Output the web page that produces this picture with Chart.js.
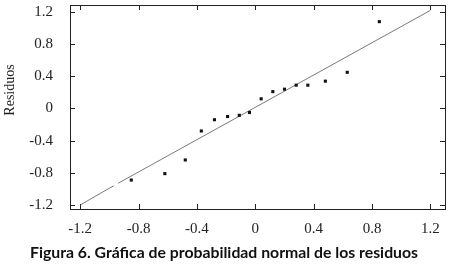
<!DOCTYPE html>
<html>
<head>
<meta charset="utf-8">
<script src="https://cdn.jsdelivr.net/npm/chart.js@4/dist/chart.umd.min.js"></script>
<style>
  html, body { margin: 0; padding: 0; background: #fff; }
  #wrap { width: 449px; height: 273px; position: relative; }
</style>
</head>
<body>
<div id="wrap"><canvas id="chart"></canvas></div>
<script>
// residuals vs normal scores
const normalScores = [-0.85, -0.62, -0.48, -0.37, -0.28, -0.19, -0.11, -0.04, 0.04, 0.12, 0.20, 0.28, 0.36, 0.48, 0.63, 0.85];
const residuals = [-0.89, -0.81, -0.64, -0.28, -0.14, -0.10, -0.085, -0.05, 0.12, 0.21, 0.24, 0.29, 0.29, 0.34, 0.45, 1.08];

// reference line (with the small break seen near -0.95)
const lineX = [-1.2, -0.97, -0.955, -0.94, 1.2];
const lineY = [-1.2, -0.96, null, -0.93, 1.22];

const xTickValues = [-1.2, -0.8, -0.4, 0, 0.4, 0.8, 1.2];
const yTickValues = [-1.2, -0.8, -0.4, 0, 0.4, 0.8, 1.2];

const yTitle = "Residuos";
const caption = "Figura 6. Gráfica de probabilidad normal de los residuos";

const serif = "'Liberation Serif', 'DejaVu Serif', serif";

// box + inward tick marks on all four sides, plus y title and caption
const framePlugin = {
  id: "frame",
  afterDraw(chart) {
    const { ctx, chartArea: a, scales } = chart;
    const len = 5;
    ctx.save();
    ctx.strokeStyle = "#222";
    ctx.lineWidth = 1;
    ctx.strokeRect(Math.round(a.left) + 0.5, Math.round(a.top) + 0.5,
      Math.round(a.right - a.left), Math.round(a.bottom - a.top));
    ctx.beginPath();
    for (const v of xTickValues) {
      const px = Math.round(scales.x.getPixelForValue(v)) + 0.5;
      ctx.moveTo(px, a.bottom); ctx.lineTo(px, a.bottom - len);
      ctx.moveTo(px, a.top); ctx.lineTo(px, a.top + len);
    }
    for (const v of yTickValues) {
      const py = Math.round(scales.y.getPixelForValue(v)) + 0.5;
      ctx.moveTo(a.left, py); ctx.lineTo(a.left + len, py);
      ctx.moveTo(a.right, py); ctx.lineTo(a.right - len, py);
    }
    ctx.stroke();

    // y axis title
    ctx.fillStyle = "#222";
    ctx.font = "14px " + serif;
    ctx.textAlign = "center";
    ctx.textBaseline = "middle";
    ctx.translate(10, 90);
    ctx.rotate(-Math.PI / 2);
    ctx.fillText(yTitle, 0, 0);
    ctx.restore();

    // caption
    ctx.save();
    ctx.fillStyle = "#111";
    ctx.font = "bold 15.8px Lato, 'Open Sans', sans-serif";
    ctx.textAlign = "center";
    ctx.textBaseline = "middle";
    ctx.fillText(caption, 224, 253);
    ctx.restore();
  }
};

new Chart(document.getElementById("chart"), {
  type: "scatter",
  data: {
    datasets: [
      {
        data: lineX.map((x, i) => ({ x: x, y: lineY[i] })),
        showLine: true,
        spanGaps: false,
        borderColor: "#7a7a7a",
        borderWidth: 1,
        pointRadius: 0,
        order: 2
      },
      {
        data: normalScores.map((x, i) => ({ x: x, y: residuals[i] })),
        pointStyle: "rect",
        pointRadius: 2.2,
        backgroundColor: "#111",
        borderColor: "#111",
        borderWidth: 0,
        order: 1
      }
    ]
  },
  options: {
    responsive: true,
    maintainAspectRatio: false,
    animation: false,
    events: [],
    layout: { padding: { top: 5, right: 3, left: 0, bottom: 0 } },
    plugins: {
      legend: { display: false },
      title: { display: false },
      tooltip: { enabled: false }
    },
    scales: {
      x: {
        type: "linear",
        min: -1.27,
        max: 1.3,
        grid: { display: false, drawTicks: false },
        border: { display: false },
        afterBuildTicks: (scale) => { scale.ticks = xTickValues.map(v => ({ value: v })); },
        afterFit: (scale) => {
          scale.height = 64;
          scale.paddingLeft = 0; scale.paddingRight = 0;
        },
        ticks: {
          padding: 11,
          maxRotation: 0,
          autoSkip: false,
          color: "#222",
          font: { family: serif, size: 15 },
          callback: (v) => String(v)
        }
      },
      y: {
        type: "linear",
        min: -1.25,
        max: 1.287,
        grid: { display: false, drawTicks: false },
        border: { display: false },
        afterBuildTicks: (scale) => { scale.ticks = yTickValues.map(v => ({ value: v })); },
        afterFit: (scale) => {
          scale.width = 70;
          scale.paddingTop = 0; scale.paddingBottom = 0;
        },
        ticks: {
          padding: 17,
          autoSkip: false,
          color: "#222",
          font: { family: serif, size: 15 },
          callback: (v) => String(v)
        }
      }
    }
  },
  plugins: [framePlugin]
});
</script>
</body>
</html>
